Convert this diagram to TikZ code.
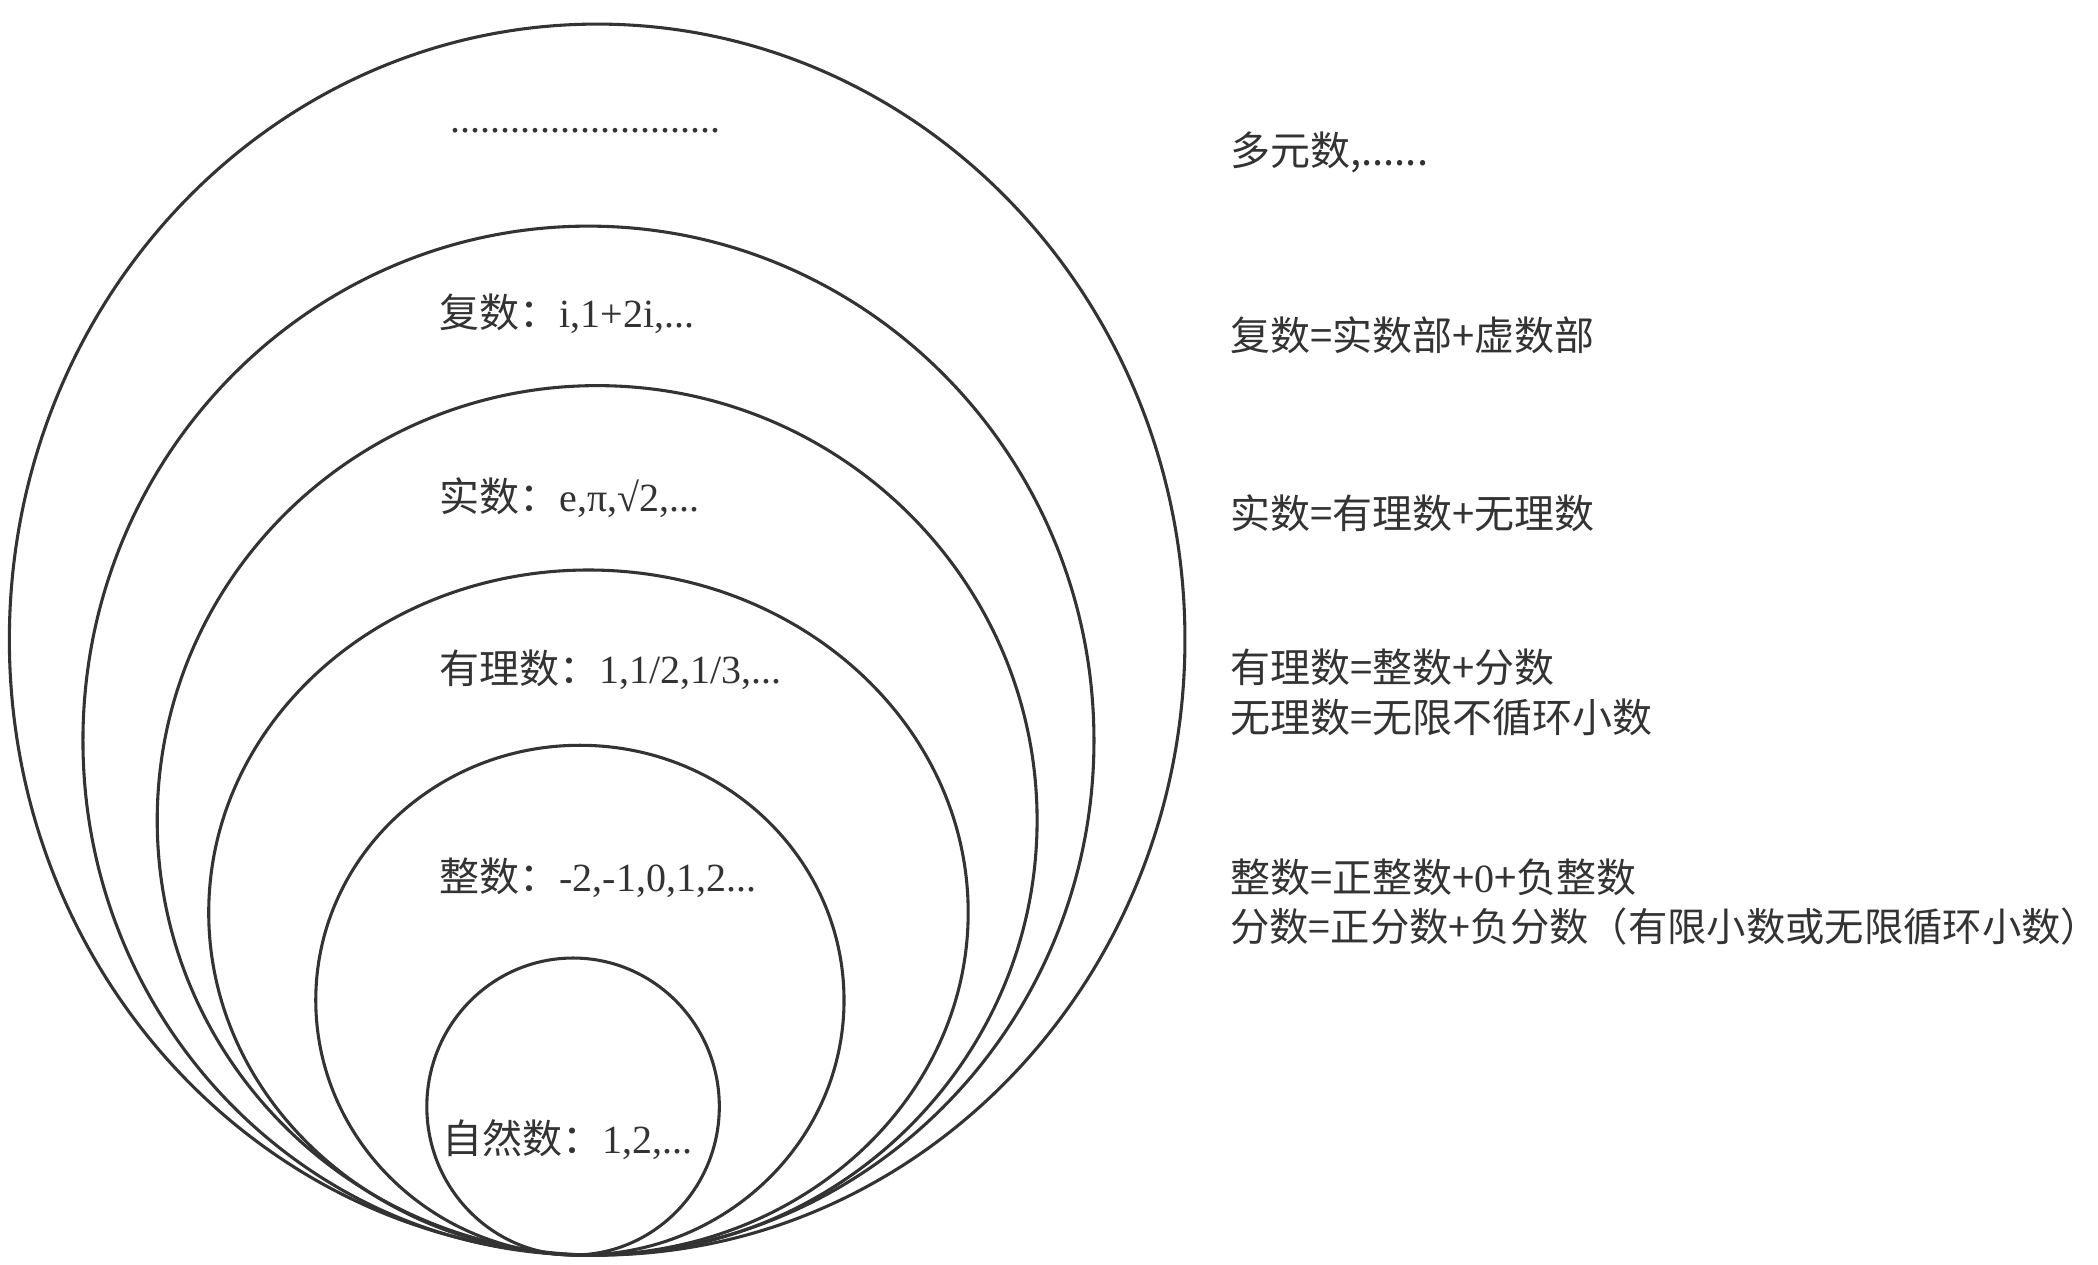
\documentclass[tikz,border=0pt]{standalone}
\usepackage{fontspec}
\setmainfont{Liberation Serif}
\newfontfamily\cjk{Noto Sans CJK SC}
\usetikzlibrary{shapes.geometric}
\definecolor{ink}{HTML}{333333}
\tikzset{
  ring/.style={draw=ink, line width=2.3pt, ellipse, inner sep=0pt, outer sep=0pt},
  lbl/.style={anchor=base west, inner sep=0pt, outer sep=0pt, text=ink,
    font=\fontsize{29.9}{38}\selectfont},
}
\begin{document}
\begin{tikzpicture}[x=1pt,y=-1pt]
\useasboundingbox (0,0) rectangle (1568,945);
\fill[white] (0,0) rectangle (1568,945);
% nested ellipses
\node[ring, minimum width=878.6pt, minimum height=920pt] (e1) at (446.3,478) {};
\node[ring, minimum width=755.6pt, minimum height=769pt] (e2) at (439.8,553.5) {};
\node[ring, minimum width=657.6pt, minimum height=649.8pt] (e3) at (446.3,613.1) {};
\node[ring, minimum width=567.6pt, minimum height=512pt] (e4) at (439.8,682) {};
\node[ring, minimum width=394.8pt, minimum height=381pt] (e5) at (433.4,747.5) {};
\node[ring, minimum width=218.6pt, minimum height=222pt] (e6) at (428.3,827) {};
% labels inside
\node[lbl] (t1) at (336.6,98.8) {...........................};
\node[lbl] (t2) at (328.5,245) {{\cjk 复数：}i,1+2i,...};
\node[lbl] (t3) at (328.5,382.4) {{\cjk 实数：}e,π,√2,...};
\node[lbl] (t4) at (328.5,511) {{\cjk 有理数：}1,1/2,1/3,...};
\node[lbl] (t5) at (328.5,666) {{\cjk 整数：}-2,-1,0,1,2...};
\node[lbl] (t6) at (330.5,862) {{\cjk 自然数：}1,2,...};
% right column
\node[lbl] (r1) at (919.5,124) {\cjk 多元数,......};
\node[lbl] (r2) at (919.5,262) {\cjk 复数=实数部+虚数部};
\node[lbl] (r3) at (919.5,394.7) {\cjk 实数=有理数+无理数};
\node[lbl] (r4) at (919.5,510) {\cjk 有理数=整数+分数};
\node[lbl] (r5) at (919.5,547.6) {\cjk 无理数=无限不循环小数};
\node[lbl] (r6) at (919.5,667) {{\cjk 整数=正整数+}0{\cjk +负整数}};
\node[lbl, font=\fontsize{29.4}{38}\selectfont] (r7) at (919.5,704) {\cjk 分数=正分数+负分数（有限小数或无限循环小数\makebox[0.5em][l]{）}};
\end{tikzpicture}
\end{document}
